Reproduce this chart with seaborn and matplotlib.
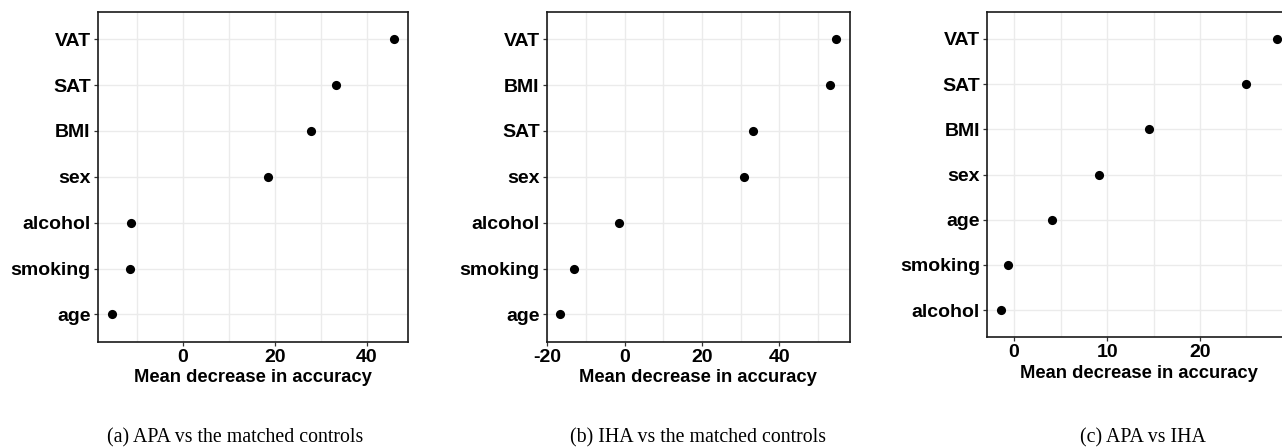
import numpy as np
import pandas as pd
import matplotlib
matplotlib.use("Agg")
import matplotlib.pyplot as plt
import seaborn as sns
from matplotlib.ticker import MultipleLocator

# ---------------- DATA ----------------
vars_a = ["VAT", "SAT", "BMI", "sex", "alcohol", "smoking", "age"]
mda_a = [45.9, 33.4, 27.9, 18.6, -11.3, -11.5, -15.4]

vars_b = ["VAT", "BMI", "SAT", "sex", "alcohol", "smoking", "age"]
mda_b = [54.7, 53.2, 33.1, 30.8, -1.4, -13.0, -16.6]

vars_c = ["VAT", "SAT", "BMI", "sex", "age", "smoking", "alcohol"]
mda_c = [28.3, 25.0, 14.5, 9.16, 4.06, -0.71, -1.43]

captions = [
    "(a) APA vs the matched controls",
    "(b) IHA vs the matched controls",
    "(c) APA vs IHA",
]
major_steps = [20, 20, 10]

# ---------------- STYLE ----------------
sns.set_theme(style="white")
plt.rcParams["font.family"] = ["Liberation Sans", "DejaVu Sans"]
plt.rcParams["axes.unicode_minus"] = False

fig = plt.figure(figsize=(12.82, 4.47), dpi=100)

# axes rectangles (figure fractions)
rects = [
    [0.0762, 0.2349, 0.2421, 0.739],
    [0.4264, 0.2349, 0.2366, 0.739],
    [0.7699, 0.2454, 0.2371, 0.7284],
]
caption_x = [0.1837, 0.5445, 0.8916]

panels = [(vars_a, mda_a), (vars_b, mda_b), (vars_c, mda_c)]

for i, (names, vals) in enumerate(panels):
    ax = fig.add_axes(rects[i])
    df = pd.DataFrame({"var": names, "mda": vals})

    sns.stripplot(
        data=df, x="mda", y="var", order=names,
        jitter=False, color="black", size=6.6, linewidth=0, ax=ax,
        zorder=3,
    )

    # ggplot-like expansion
    lo, hi = min(vals), max(vals)
    pad = 0.05 * (hi - lo)
    ax.set_xlim(lo - pad, hi + pad)
    ax.set_ylim(len(names) - 1 + 0.6, -0.6)

    ax.xaxis.set_major_locator(MultipleLocator(major_steps[i]))
    ax.xaxis.set_minor_locator(MultipleLocator(major_steps[i] / 2))

    ax.grid(True, which="major", color="#ebebeb", linewidth=1.0, zorder=0)
    ax.grid(True, which="minor", axis="x", color="#ebebeb", linewidth=1.0, zorder=0)
    ax.set_axisbelow(True)

    for sp in ax.spines.values():
        sp.set_visible(True)
        sp.set_color("#1a1a1a")
        sp.set_linewidth(1.2)

    ax.tick_params(axis="both", which="major", length=3, width=0.9,
                   color="#333333", pad=2, labelsize=14, labelcolor="black")
    ax.tick_params(axis="x", which="minor", length=0)
    ax.tick_params(left=True, bottom=True)
    for lab in ax.get_xticklabels() + ax.get_yticklabels():
        lab.set_fontweight("bold")

    ax.set_ylabel("")
    ax.set_xlabel("Mean decrease in accuracy", fontsize=13.2,
                  fontweight="bold", color="black", labelpad=2.5)

    fig.text(caption_x[i], 0.02, captions[i], ha="center", va="center",
             fontsize=14.3, color="black",
             family=["Liberation Serif", "DejaVu Serif"])

fig.savefig("out.png", dpi=100)
